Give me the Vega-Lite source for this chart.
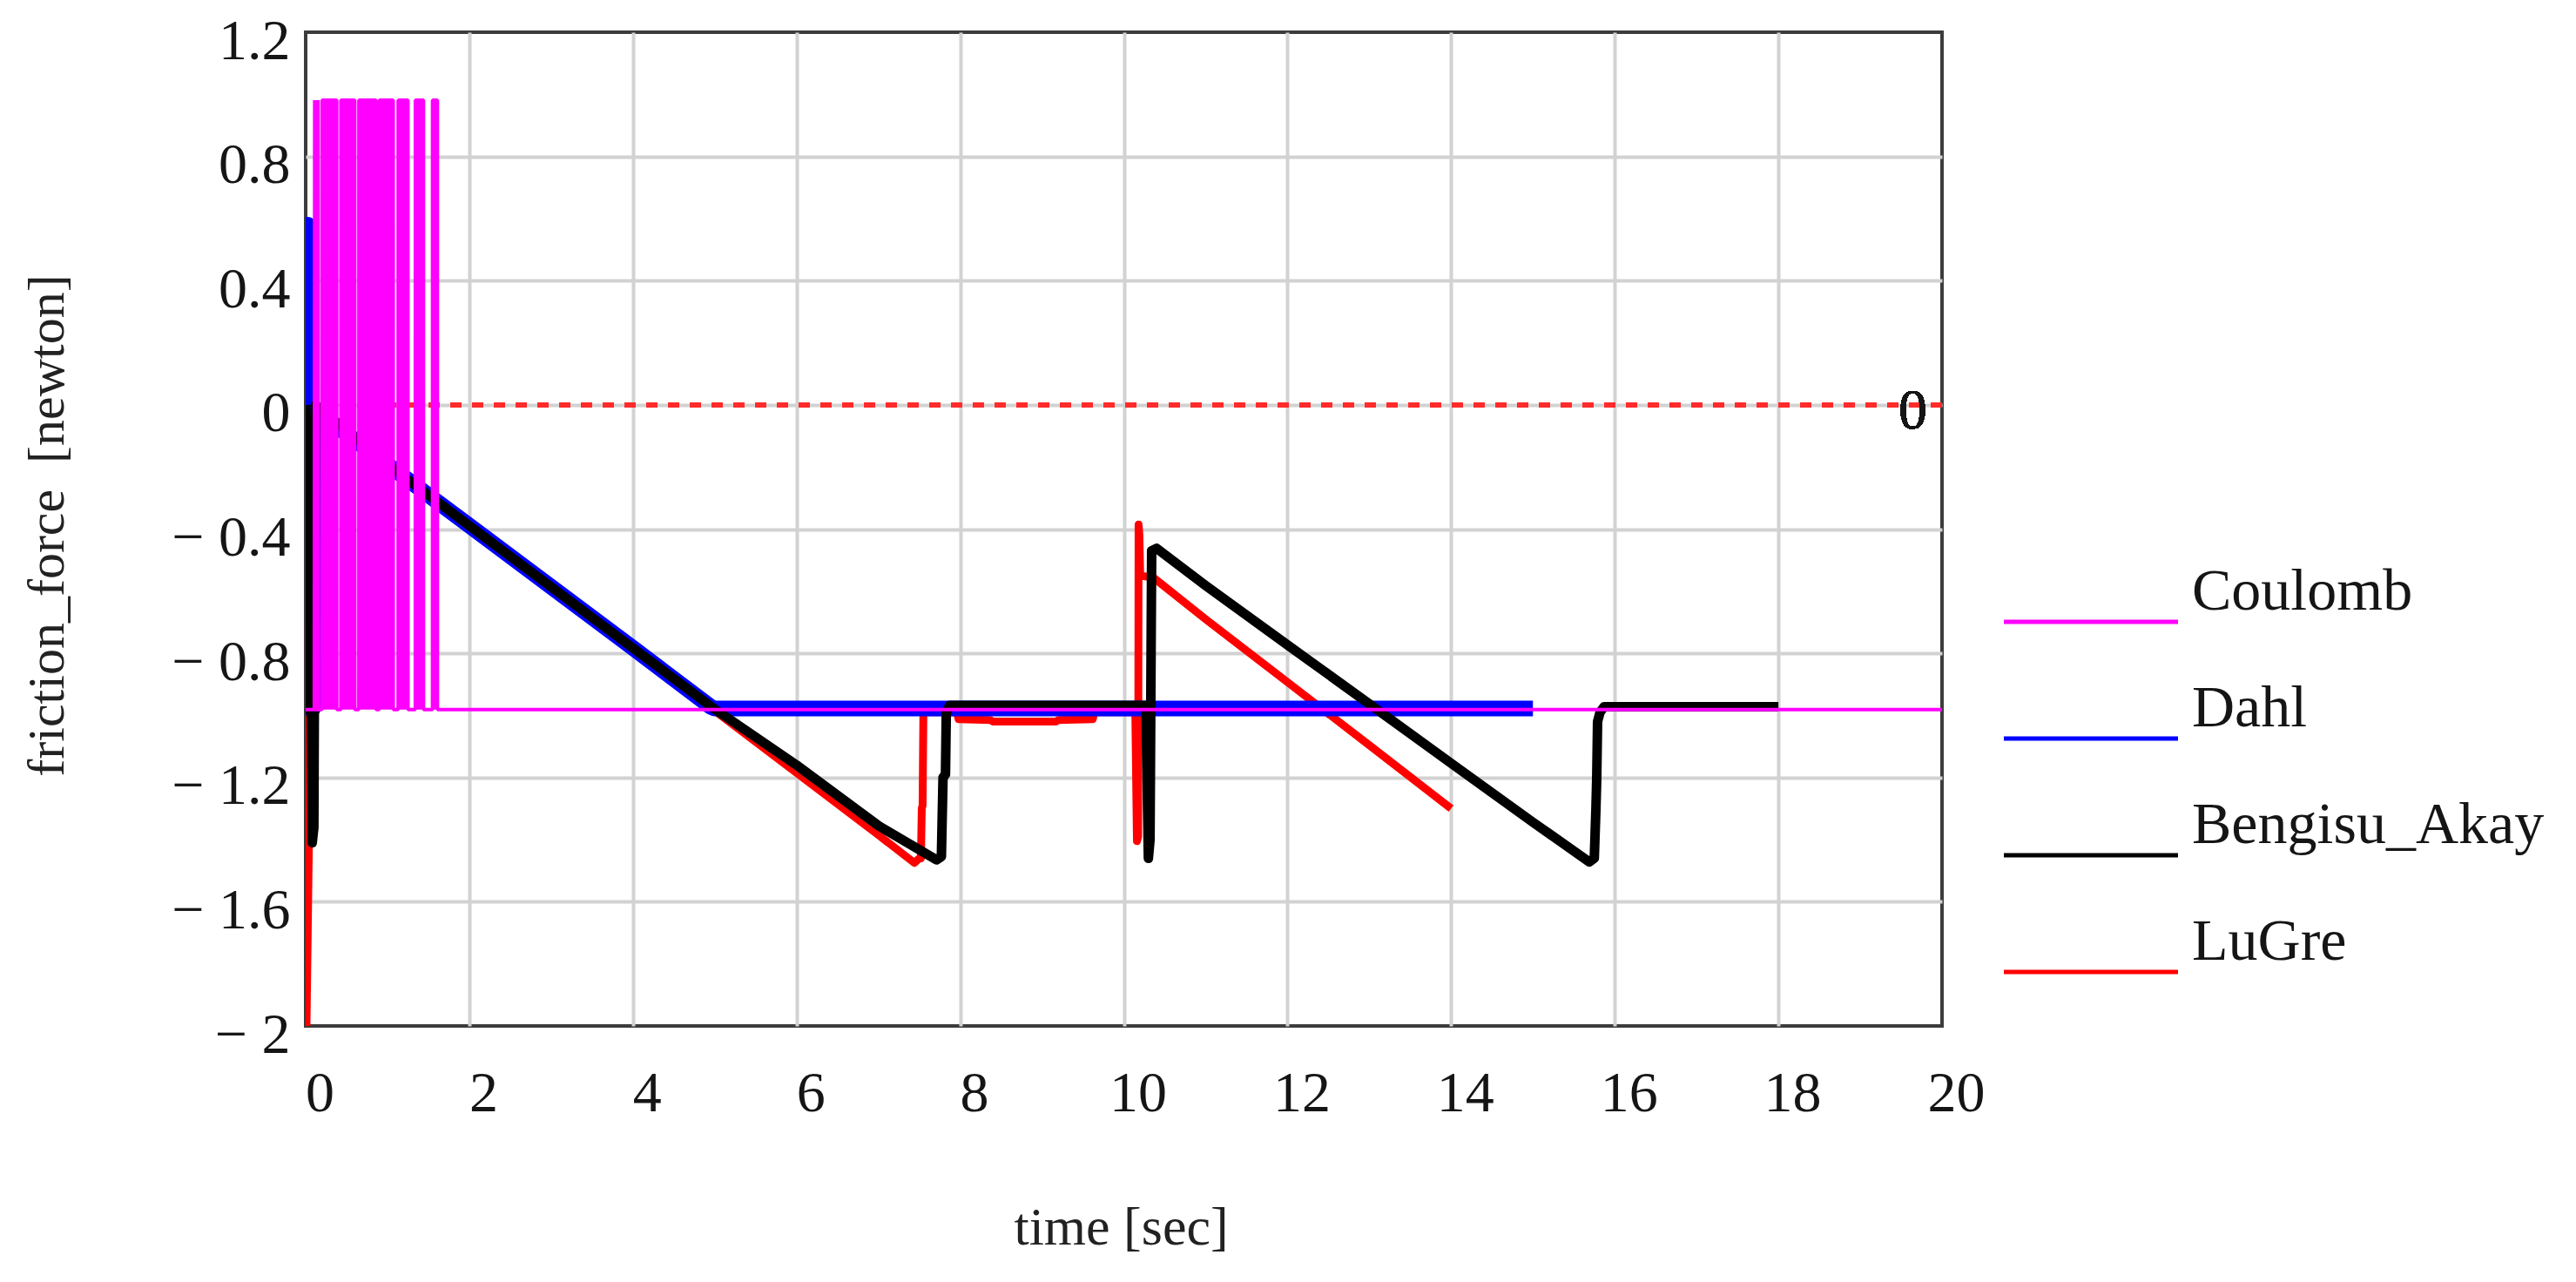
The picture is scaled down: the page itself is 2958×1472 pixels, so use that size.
{
  "$schema": "https://vega.github.io/schema/vega-lite/v6.json",
  "width": 1879,
  "height": 1141,
  "autosize": {"type": "none"},
  "padding": {"left": 351, "top": 37, "right": 728, "bottom": 294},
  "background": "white",
  "config": {
    "font": "Liberation Serif",
    "view": {"stroke": "#3c3c3c", "strokeWidth": 4},
    "axis": {
      "labelFont": "Liberation Serif",
      "labelFontSize": 66,
      "labelColor": "#151515",
      "ticks": false,
      "tickSize": 0,
      "domain": false,
      "grid": true,
      "gridColor": "#d2d2d2",
      "gridWidth": 4,
      "titleFont": "Liberation Serif",
      "titleFontWeight": "normal",
      "titleColor": "#222222",
      "labelOverlap": false,
      "labelFlush": false
    },
    "legend": {
      "orient": "none",
      "legendX": 1947.5,
      "legendY": 574.5,
      "padding": 0,
      "labelFont": "Liberation Serif",
      "labelFontSize": 68,
      "labelColor": "#151515",
      "labelBaseline": "bottom",
      "labelOffset": 13.5,
      "labelLimit": 1000,
      "symbolType": "stroke",
      "symbolSize": 40000,
      "symbolStrokeWidth": 5,
      "rowPadding": 21
    }
  },
  "datasets": {
    "switching": [
      {"model": "Coulomb", "t0": 0.2, "t1": 0.38, "hi": 0.981, "lo": -0.981},
      {"model": "Coulomb", "t0": 0.43, "t1": 0.6, "hi": 0.981, "lo": -0.981},
      {"model": "Coulomb", "t0": 0.65, "t1": 0.86, "hi": 0.981, "lo": -0.981},
      {"model": "Coulomb", "t0": 0.9, "t1": 1.07, "hi": 0.981, "lo": -0.981},
      {"model": "Coulomb", "t0": 1.13, "t1": 1.25, "hi": 0.981, "lo": -0.981},
      {"model": "Coulomb", "t0": 1.34, "t1": 1.44, "hi": 0.981, "lo": -0.981},
      {"model": "Coulomb", "t0": 1.55, "t1": 1.61, "hi": 0.981, "lo": -0.981}
    ],
    "series": [
      {"model": "Coulomb", "t": 0, "f": -0.981},
      {"model": "Coulomb", "t": 0.105, "f": -0.981},
      {"model": "Coulomb", "t": 0.11, "f": 0.981},
      {"model": "Coulomb", "t": 0.115, "f": -0.981},
      {"model": "Coulomb", "t": 0.145, "f": -0.981},
      {"model": "Coulomb", "t": 0.15, "f": 0.981},
      {"model": "Coulomb", "t": 0.155, "f": -0.981},
      {"model": "Coulomb", "t": 0.2, "f": -0.981},
      {"model": "Coulomb", "t": 0.2005, "f": 0.981},
      {"model": "Coulomb", "t": 0.38, "f": 0.981},
      {"model": "Coulomb", "t": 0.3805, "f": -0.981},
      {"model": "Coulomb", "t": 0.43, "f": -0.981},
      {"model": "Coulomb", "t": 0.4305, "f": 0.981},
      {"model": "Coulomb", "t": 0.6, "f": 0.981},
      {"model": "Coulomb", "t": 0.6005, "f": -0.981},
      {"model": "Coulomb", "t": 0.65, "f": -0.981},
      {"model": "Coulomb", "t": 0.6505, "f": 0.981},
      {"model": "Coulomb", "t": 0.86, "f": 0.981},
      {"model": "Coulomb", "t": 0.8605, "f": -0.981},
      {"model": "Coulomb", "t": 0.9, "f": -0.981},
      {"model": "Coulomb", "t": 0.9005, "f": 0.981},
      {"model": "Coulomb", "t": 1.07, "f": 0.981},
      {"model": "Coulomb", "t": 1.0705, "f": -0.981},
      {"model": "Coulomb", "t": 1.13, "f": -0.981},
      {"model": "Coulomb", "t": 1.1305, "f": 0.981},
      {"model": "Coulomb", "t": 1.25, "f": 0.981},
      {"model": "Coulomb", "t": 1.2505, "f": -0.981},
      {"model": "Coulomb", "t": 1.34, "f": -0.981},
      {"model": "Coulomb", "t": 1.3405, "f": 0.981},
      {"model": "Coulomb", "t": 1.44, "f": 0.981},
      {"model": "Coulomb", "t": 1.4405, "f": -0.981},
      {"model": "Coulomb", "t": 1.55, "f": -0.981},
      {"model": "Coulomb", "t": 1.5505, "f": 0.981},
      {"model": "Coulomb", "t": 1.61, "f": 0.981},
      {"model": "Coulomb", "t": 1.6105, "f": -0.981},
      {"model": "Coulomb", "t": 20, "f": -0.981},

      {"model": "Dahl", "t": 0, "f": 0},
      {"model": "Dahl", "t": 0.015, "f": 0.58},
      {"model": "Dahl", "t": 0.03, "f": 0.58},
      {"model": "Dahl", "t": 0.05, "f": -0.978},
      {"model": "Dahl", "t": 0.09, "f": -0.978},
      {"model": "Dahl", "t": 0.13, "f": -0.02},
      {"model": "Dahl", "t": 1.0, "f": -0.192},
      {"model": "Dahl", "t": 2.0, "f": -0.389},
      {"model": "Dahl", "t": 3.0, "f": -0.586},
      {"model": "Dahl", "t": 4.0, "f": -0.783},
      {"model": "Dahl", "t": 4.95, "f": -0.972},
      {"model": "Dahl", "t": 5.0, "f": -0.978},
      {"model": "Dahl", "t": 15.0, "f": -0.978},

      {"model": "Bengisu_Akay", "t": 0, "f": 0},
      {"model": "Bengisu_Akay", "t": 0.05, "f": -0.98},
      {"model": "Bengisu_Akay", "t": 0.07, "f": -1.0},
      {"model": "Bengisu_Akay", "t": 0.08, "f": -1.41},
      {"model": "Bengisu_Akay", "t": 0.1, "f": -1.36},
      {"model": "Bengisu_Akay", "t": 0.12, "f": 0.0},
      {"model": "Bengisu_Akay", "t": 1.0, "f": -0.192},
      {"model": "Bengisu_Akay", "t": 2.0, "f": -0.389},
      {"model": "Bengisu_Akay", "t": 3.0, "f": -0.586},
      {"model": "Bengisu_Akay", "t": 4.0, "f": -0.783},
      {"model": "Bengisu_Akay", "t": 5.0, "f": -0.98},
      {"model": "Bengisu_Akay", "t": 6.0, "f": -1.16},
      {"model": "Bengisu_Akay", "t": 7.0, "f": -1.355},
      {"model": "Bengisu_Akay", "t": 7.71, "f": -1.465},
      {"model": "Bengisu_Akay", "t": 7.77, "f": -1.455},
      {"model": "Bengisu_Akay", "t": 7.79, "f": -1.2},
      {"model": "Bengisu_Akay", "t": 7.82, "f": -1.19},
      {"model": "Bengisu_Akay", "t": 7.83, "f": -0.99},
      {"model": "Bengisu_Akay", "t": 7.87, "f": -0.968},
      {"model": "Bengisu_Akay", "t": 10.27, "f": -0.968},
      {"model": "Bengisu_Akay", "t": 10.3, "f": -1.46},
      {"model": "Bengisu_Akay", "t": 10.32, "f": -1.4},
      {"model": "Bengisu_Akay", "t": 10.34, "f": -0.47},
      {"model": "Bengisu_Akay", "t": 10.4, "f": -0.462},
      {"model": "Bengisu_Akay", "t": 11.0, "f": -0.582},
      {"model": "Bengisu_Akay", "t": 12.0, "f": -0.773},
      {"model": "Bengisu_Akay", "t": 13.0, "f": -0.963},
      {"model": "Bengisu_Akay", "t": 14.0, "f": -1.154},
      {"model": "Bengisu_Akay", "t": 15.0, "f": -1.344},
      {"model": "Bengisu_Akay", "t": 15.69, "f": -1.472},
      {"model": "Bengisu_Akay", "t": 15.75, "f": -1.46},
      {"model": "Bengisu_Akay", "t": 15.77, "f": -1.3},
      {"model": "Bengisu_Akay", "t": 15.78, "f": -1.2},
      {"model": "Bengisu_Akay", "t": 15.79, "f": -1.02},
      {"model": "Bengisu_Akay", "t": 15.82, "f": -0.99},
      {"model": "Bengisu_Akay", "t": 15.87, "f": -0.972},
      {"model": "Bengisu_Akay", "t": 18.0, "f": -0.972},

      {"model": "LuGre", "t": 0, "f": 0},
      {"model": "LuGre", "t": 0.01, "f": -2.0},
      {"model": "LuGre", "t": 0.05, "f": -1.2},
      {"model": "LuGre", "t": 0.12, "f": -0.02},
      {"model": "LuGre", "t": 1.0, "f": -0.192},
      {"model": "LuGre", "t": 2.0, "f": -0.389},
      {"model": "LuGre", "t": 3.0, "f": -0.586},
      {"model": "LuGre", "t": 4.0, "f": -0.783},
      {"model": "LuGre", "t": 5.0, "f": -0.985},
      {"model": "LuGre", "t": 6.0, "f": -1.185},
      {"model": "LuGre", "t": 7.0, "f": -1.385},
      {"model": "LuGre", "t": 7.44, "f": -1.475},
      {"model": "LuGre", "t": 7.5, "f": -1.46},
      {"model": "LuGre", "t": 7.52, "f": -1.46},
      {"model": "LuGre", "t": 7.53, "f": -1.3},
      {"model": "LuGre", "t": 7.54, "f": -1.29},
      {"model": "LuGre", "t": 7.55, "f": -0.99},
      {"model": "LuGre", "t": 7.96, "f": -0.99},
      {"model": "LuGre", "t": 7.98, "f": -1.012},
      {"model": "LuGre", "t": 8.37, "f": -1.015},
      {"model": "LuGre", "t": 8.4, "f": -1.02},
      {"model": "LuGre", "t": 9.17, "f": -1.02},
      {"model": "LuGre", "t": 9.2, "f": -1.015},
      {"model": "LuGre", "t": 9.62, "f": -1.012},
      {"model": "LuGre", "t": 9.64, "f": -0.99},
      {"model": "LuGre", "t": 10.14, "f": -0.99},
      {"model": "LuGre", "t": 10.16, "f": -1.405},
      {"model": "LuGre", "t": 10.175, "f": -1.39},
      {"model": "LuGre", "t": 10.18, "f": -0.385},
      {"model": "LuGre", "t": 10.19, "f": -0.42},
      {"model": "LuGre", "t": 10.2, "f": -0.55},
      {"model": "LuGre", "t": 10.36, "f": -0.556},
      {"model": "LuGre", "t": 11.0, "f": -0.69},
      {"model": "LuGre", "t": 12.0, "f": -0.893},
      {"model": "LuGre", "t": 13.0, "f": -1.096},
      {"model": "LuGre", "t": 14.0, "f": -1.3}
    ]
  },
  "data": {"name": "series"},
  "layer": [
    {
      "mark": {"type": "rule", "color": "#ff2b2b", "strokeWidth": 5, "strokeDash": [13, 12]},
      "encoding": {
        "y": {"datum": 0, "type": "quantitative"}
      }
    },
    {
      "encoding": {
        "x": {
          "field": "t",
          "type": "quantitative",
          "scale": {"domain": [0, 20], "nice": false, "zero": false},
          "axis": {
            "title": "time [sec]",
            "values": [0, 2, 4, 6, 8, 10, 12, 14, 16, 18, 20],
            "format": "d",
            "labelPadding": 45,
            "labelOffset": 16,
            "gridOpacity": {"condition": {"test": "datum.value == 0 || datum.value == 20", "value": 0}, "value": 1},
            "titleFontSize": 62,
            "titleX": 936,
            "titleY": 250,
            "titleAlign": "center",
            "titleBaseline": "alphabetic"
          }
        },
        "y": {
          "field": "f",
          "type": "quantitative",
          "scale": {"domain": [-2, 1.2], "nice": false, "zero": false},
          "axis": {
            "title": "friction_force\u00a0\u00a0[newton]",
            "values": [-2, -1.6, -1.2, -0.8, -0.4, 0, 0.4, 0.8, 1.2],
            "labelExpr": "datum.value < 0 ? '\u2212 ' + format(-datum.value, '~g') : format(datum.value, '~g')",
            "labelPadding": 18,
            "labelBaseline": "middle",
            "labelOffset": 10,
            "gridOpacity": {"condition": {"test": "datum.value == 1.2 || datum.value == -2", "value": 0}, "value": 1},
            "titleFontSize": 60,
            "titleX": -279,
            "titleY": 566,
            "titleAngle": 270,
            "titleAlign": "center",
            "titleBaseline": "alphabetic"
          }
        },
        "color": {
          "field": "model",
          "type": "nominal",
          "scale": {
            "domain": ["Coulomb", "Dahl", "Bengisu_Akay", "LuGre"],
            "range": ["#ff00ff", "#0000ff", "#000000", "#ff0000"]
          },
          "legend": {"title": null}
        }
      },
      "layer": [
        {
          "transform": [{"filter": "datum.model === 'LuGre'"}],
          "mark": {"type": "line", "strokeWidth": 9, "clip": true, "strokeJoin": "round"}
        },
        {
          "transform": [{"filter": "datum.model === 'Dahl'"}],
          "mark": {"type": "line", "strokeWidth": 18, "clip": true, "strokeJoin": "round"}
        },
        {
          "transform": [{"filter": "datum.model === 'Bengisu_Akay'"}],
          "mark": {"type": "line", "strokeWidth": 11, "clip": true, "strokeJoin": "round"}
        },
        {
          "transform": [{"filter": "datum.model === 'Coulomb'"}],
          "mark": {"type": "line", "strokeWidth": 4, "clip": true, "strokeJoin": "bevel"}
        }
      ]
    },
    {
      "data": {"name": "switching"},
      "mark": {"type": "rect", "fill": "#ff00ff", "opacity": 1, "clip": true},
      "encoding": {
        "x": {"field": "t0", "type": "quantitative"},
        "x2": {"field": "t1"},
        "y": {"field": "hi", "type": "quantitative"},
        "y2": {"field": "lo"}
      }
    },
    {
      "mark": {"type": "text", "text": "0", "font": "Liberation Serif", "fontSize": 66, "color": "#151515", "align": "right", "baseline": "middle", "dx": -17, "dy": 7},
      "encoding": {
        "x": {"datum": 20, "type": "quantitative"},
        "y": {"datum": 0, "type": "quantitative"}
      }
    }
  ]
}
